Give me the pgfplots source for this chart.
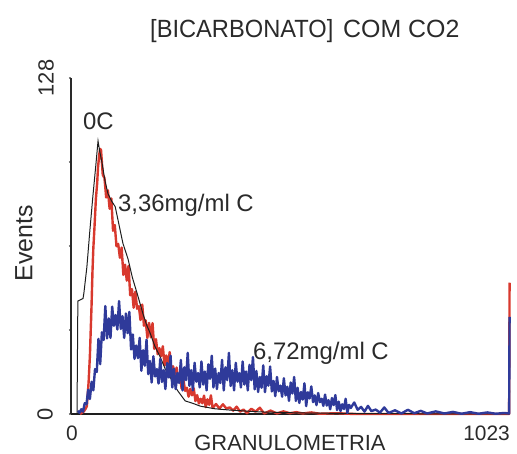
\documentclass[border=0pt]{standalone}
\usepackage{pgfplots}
\pgfplotsset{compat=1.18}
\usepackage{fontspec}
\setmainfont{Liberation Sans}
\definecolor{rd}{HTML}{D8392E}
\definecolor{bl}{HTML}{2F3A9A}
\definecolor{bk}{HTML}{1E1E1E}
\definecolor{txt}{HTML}{2A2A2A}
\begin{document}
\begin{tikzpicture}
\path[use as bounding box] (-71bp,-40bp) rectangle (446bp,414bp);
\begin{axis}[
  at={(0,0)}, anchor=south west,
  scale only axis, width=439bp, height=336bp,
  xmin=0, xmax=1023, ymin=0, ymax=128,
  axis x line*=bottom, axis y line*=left,
  x axis line style={-, line width=1.4bp, color=bk},
  y axis line style={-, line width=1.2bp, color=txt},
  xtick=\empty,
  ytick={0,32,64,96,128}, yticklabels={,,,,},
  tick align=outside, major tick length=2.5bp,
  tick style={line width=1.5bp, color=gray},
  clip=false,
]
\addplot[rd, line width=2.4bp, line join=round] coordinates {
(21,0)(26,0.5)(30,1)(34,2)(37,3)(41,12)(44,22)(46,32)(48,42)(50,54)(52,63)(55,72)(58,82)(61,88)(63,94)(66,99)(68,101)
(70,100.5)(74,91.2)(78,89.9)(82,82.5)(86,85.2)(90,78.2)(94,82.1)(98,69.8)(102,72)(106,63.9)(110,64.8)(114,59.5)(118,63.4)(122,53)(126,56.9)(130,50.8)(134,56.4)(138,45.2)(142,47.6)(146,40.5)(150,46.6)(154,40.1)(158,41.1)(162,35.8)(166,41.7)(170,33.6)(174,35.7)(178,29)(182,34.7)(186,29.2)(190,34.6)(194,24.8)(198,28.5)
(202,22.8)(206,25.1)(210,22)(214,25.8)(218,18.5)(222,22.3)(226,18.8)(230,23.6)(234,15.9)(238,18.2)(242,13)(246,17.7)(250,12.8)(254,13.6)(258,9.6)(262,13)(266,8.8)(270,10)(274,6.6)(278,9.6)(282,7.1)(286,9.8)(290,4.9)(294,7.2)(298,4)(302,5.8)(306,4.1)(310,7)(314,2.6)(318,5.6)(322,3.5)(326,7.1)(330,2.3)
(338,3.8)(346,2.1)(354,3.7)(362,2.1)(370,2.5)(378,1.3)(386,2.8)(394,0.9)(402,1.7)(410,0.3)(420,2)(430,0.9)(440,2.4)(450,0.2)(465,1.3)(480,0.2)(495,1)(510,0.3)(525,0.7)(540,0.2)(560,0.6)(580,0.1)(620,0.3)(660,0)(1021,0)(1022,50)
};
\addplot[bk, line width=1bp] coordinates {
(0,0)(14,0)(16,43)(28,44)(30,46)(37,56)(44,70)(51,83)(58,95)(63,104)(67,100)(72,96)(79,89)(86,84)(95,81)(103,79)(112,72)(121,65)(133,59)(143,52)(154,46)(168,38)(176,34)(184,31)(195,26)(207,22)(220,17)(231,14)(248,9)(266,5)(285,4)(301,3)(335,2)(370,1.5)(440,0.8)(534,0.4)(650,0.2)(800,0.1)(1020,0)(1022,9)
};
\addplot[bl, line width=2.4bp, line join=round] coordinates {
(16,1.2)(20,0.5)(24,1.8)(28,0.9)(32,4.1)(36,3.7)(40,9.2)(44,5.7)(48,12.3)(52,9)(56,17.1)(60,16)(64,28.6)(68,19)(72,31.1)(76,28.2)(80,41.1)(84,28.8)(88,36.4)(92,29)(96,40.9)(100,33.6)(104,37.7)(108,32.2)(112,43)(116,32.4)(120,37.3)(124,29)(128,38.3)(132,30.8)(136,38.9)
(140,24.6)(144,30.3)(148,21)(152,26.1)(156,21.3)(160,29)(164,16.5)(168,24.3)(172,18.4)(176,28.3)(180,15.2)(184,20.2)(188,12)(192,22)(196,14.3)(200,17.1)(204,11.6)(208,21)(212,12.2)(216,16.7)(220,9.5)(224,19.4)(228,13.9)(232,22.2)(236,10.1)
(240,17.3)(244,9.5)(248,15.6)(252,11.8)(256,20.6)(260,9)(264,17.8)(268,12.9)(272,23.3)(276,10.7)(280,16.7)(284,9)(288,19.5)(292,12.3)(296,15.6)(300,10.1)(304,20)(308,11.2)(312,16.2)(316,9)(320,18.9)(324,13.4)(328,22.2)(332,10.1)(336,17.3)(340,9.5)(344,15.6)(348,11.8)(352,20.6)(356,9)(360,17.8)(364,12.9)(368,23.3)(372,10.7)(376,16.7)(380,9)(384,19.5)(388,12.3)(392,15.6)(396,10.1)(400,20)(404,11.2)(408,16.2)(412,9)
(416,18.7)(420,12.9)(424,21.7)(428,9.4)(432,16.4)(436,8.4)(440,14.1)(444,10)(448,18.5)(452,8.3)(456,14.4)(460,10.8)(464,18.1)(468,8.6)(472,12.6)(476,6.8)(480,14.1)(484,8.7)(488,10.8)(492,6.6)(496,13.6)(500,7.1)(504,10.4)(508,5)(512,12)(516,7.8)(520,14.1)(524,5)(528,10)(532,4.2)(536,8.4)(540,5.5)(544,11.7)(548,3)
(552,8.3)(556,5.9)(560,10.5)(564,4.5)(568,7.1)(572,3.4)(576,8)(580,4.5)(584,5.8)(588,3.1)(592,7.4)(596,3.2)(600,5.3)(604,1.8)(608,6.1)(612,3.4)(616,7.2)(620,1.5)(624,4.7)(628,1.1)(632,3.7)(636,1.9)(640,5.8)(644,0.4)(648,3.5)(652,2.3)
(660,4.4)(668,1.6)(676,2.7)(684,0.9)(692,3.1)(700,1.1)(710,1.7)(720,0.5)(730,2.5)(740,0.4)(755,1.4)(770,0.2)(785,1.6)(800,0.3)(815,1.2)(830,0.2)(850,1)(870,0.2)(890,0.8)(910,0.1)(930,0.7)(950,0.1)(970,0.6)(990,0.1)(1010,0.4)(1021,0.2)(1022,37)
};
\end{axis}
\begin{scope}[every node/.style={text=txt, inner sep=0pt}]
\node[anchor=base west, font=\fontsize{25}{25}\selectfont, xscale=0.95] at (79bp,376bp) {[BICARBONATO]};
\node[anchor=base west, font=\fontsize{25}{25}\selectfont] at (272bp,376bp) {COM CO2};
\node[rotate=90, font=\fontsize{22}{22}\selectfont] at (-25bp,336bp) {128};
\node[rotate=90, font=\fontsize{22}{22}\selectfont] at (-26bp,0bp) {0};
\node[rotate=90, font=\fontsize{25}{25}\selectfont] at (-47bp,171bp) {Events};
\node[anchor=base, font=\fontsize{21}{21}\selectfont] at (1bp,-26bp) {0};
\node[anchor=base east, font=\fontsize{21}{21}\selectfont] at (439bp,-26bp) {1023};
\node[anchor=base, font=\fontsize{22}{22}\selectfont] at (219bp,-36bp) {GRANULOMETRIA};
\node[anchor=base west, font=\fontsize{24}{24}\selectfont] at (12bp,284bp) {0C};
\node[anchor=base west, font=\fontsize{24}{24}\selectfont] at (47bp,202bp) {3,36mg/ml C};
\node[anchor=base west, font=\fontsize{24}{24}\selectfont] at (182bp,54bp) {6,72mg/ml C};
\end{scope}
\end{tikzpicture}
\end{document}
